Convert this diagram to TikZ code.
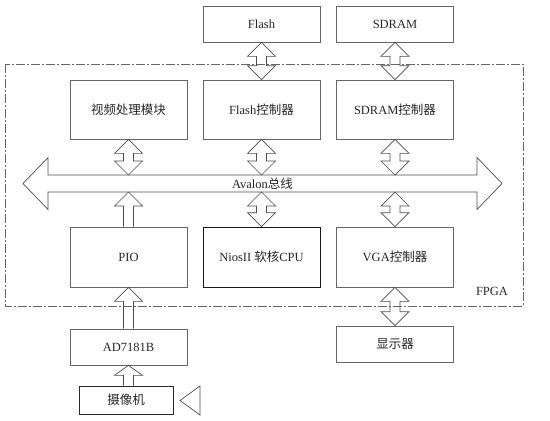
\documentclass[tikz,border=0pt]{standalone}
\usepackage{fontspec}
\setmainfont{Liberation Serif}
\newfontfamily\cjk{Noto Sans CJK SC}
\newcommand{\zh}[1]{{\cjk #1}}
\usetikzlibrary{calc}

% hollow fat arrows: #1 upper end, #2 lower end
\newcommand{\dblarr}[2]{%
  \draw[fat] #1 -- ++(14,14) -- ++(-9,0) -- ($#2+(5,-14)$) -- ++(9,0) -- #2
    -- ++(-14,-14) -- ++(9,0) -- ($#1+(-5,14)$) -- ++(-9,0) -- cycle;}
% #1 tail (below), #2 tip (above), #3 head length
\newcommand{\uparr}[3]{%
  \draw[fat] ($#1+(-5,0)$) -- ($#2+(-5,#3)$) -- ++(-9,0) -- #2
    -- ($#2+(14,#3)$) -- ++(-9,0) -- ($#1+(5,0)$);}

\begin{document}
\begin{tikzpicture}[
  x=1pt, y=-1pt,
  font=\fontsize{12.5}{14}\selectfont, text=black!85,
  box/.style={draw=black!60, line width=0.7pt, minimum width=117pt,
              minimum height=36pt, inner sep=0pt, align=center},
  bigbox/.style={box, minimum height=60pt},
  fat/.style={draw=black!70, line width=0.7pt, line join=miter},
  frame/.style={draw=black!60, line width=0.8pt,
                dash pattern=on 9pt off 2pt on 2pt off 2pt}
]
  \useasboundingbox (0,0) rectangle (550,421);

  % FPGA frame
  \draw[frame] (5,64) rectangle (523,306);
  \node (fpganame) at (492,291) {FPGA};

  % memories
  \node[box] (flash) at (261.5,24) {Flash};
  \node[box] (sdram) at (395,24) {SDRAM};

  % top row
  \node[bigbox, minimum height=59pt] (video) at (128.5,109.5) {\zh{视频处理模块}};
  \node[bigbox, minimum height=59pt] (flashc) at (261.5,109.5) {Flash\zh{控制器}};
  \node[bigbox, minimum height=59pt] (sdramc) at (395,109.5) {SDRAM\zh{控制器}};

  % Avalon bus
  \coordinate (busL) at (23,183.5);
  \coordinate (busR) at (502,183.5);
  \coordinate (busT) at (262.5,175);
  \coordinate (busB) at (262.5,192);
  \draw[fat] (busL) -- ++(25,-26) -- ++(0,17.5) -- ++(429,0) -- ++(0,-17.5)
    -- (busR) -- ++(-25,26) -- ++(0,-17.5) -- ++(-429,0) -- ++(0,17.5) -- cycle;
  \node (busname) at (262.5,183.5) {Avalon\zh{总线}};

  % bottom row
  \node[bigbox] (pio) at (128.5,257) {PIO};
  \node[bigbox, draw=black!90] (nios) at (261.5,257) {NiosII \zh{软核}CPU};
  \node[bigbox] (vga) at (395,257) {VGA\zh{控制器}};

  % outside
  \node[box] (disp) at (395,344) {\zh{显示器}};
  \node[box] (ad) at (128.5,347) {AD7181B};
  \node[box, draw=black!85, minimum width=94pt, minimum height=28pt] (cam) at (126,400) {\zh{摄像机}};
  \draw[fat] (200,386) -- (180,400.5) -- (200,415) -- cycle;

  % links
  \dblarr{(flash.south)}{(flashc.north)}
  \dblarr{(sdram.south)}{(sdramc.north)}
  \dblarr{(video.south)}{(video.south |- busT)}
  \dblarr{(flashc.south)}{(flashc.south |- busT)}
  \dblarr{(sdramc.south)}{(sdramc.south |- busT)}
  \uparr{(pio.north)}{(pio.north |- busB)}{14}
  \dblarr{(nios.north |- busB)}{(nios.north)}
  \dblarr{(vga.north |- busB)}{(vga.north)}
  \dblarr{(vga.south)}{(disp.north)}
  \uparr{(ad.north)}{(pio.south)}{14}
  \uparr{(ad.south |- cam.north)}{(ad.south)}{10}
\end{tikzpicture}
\end{document}
